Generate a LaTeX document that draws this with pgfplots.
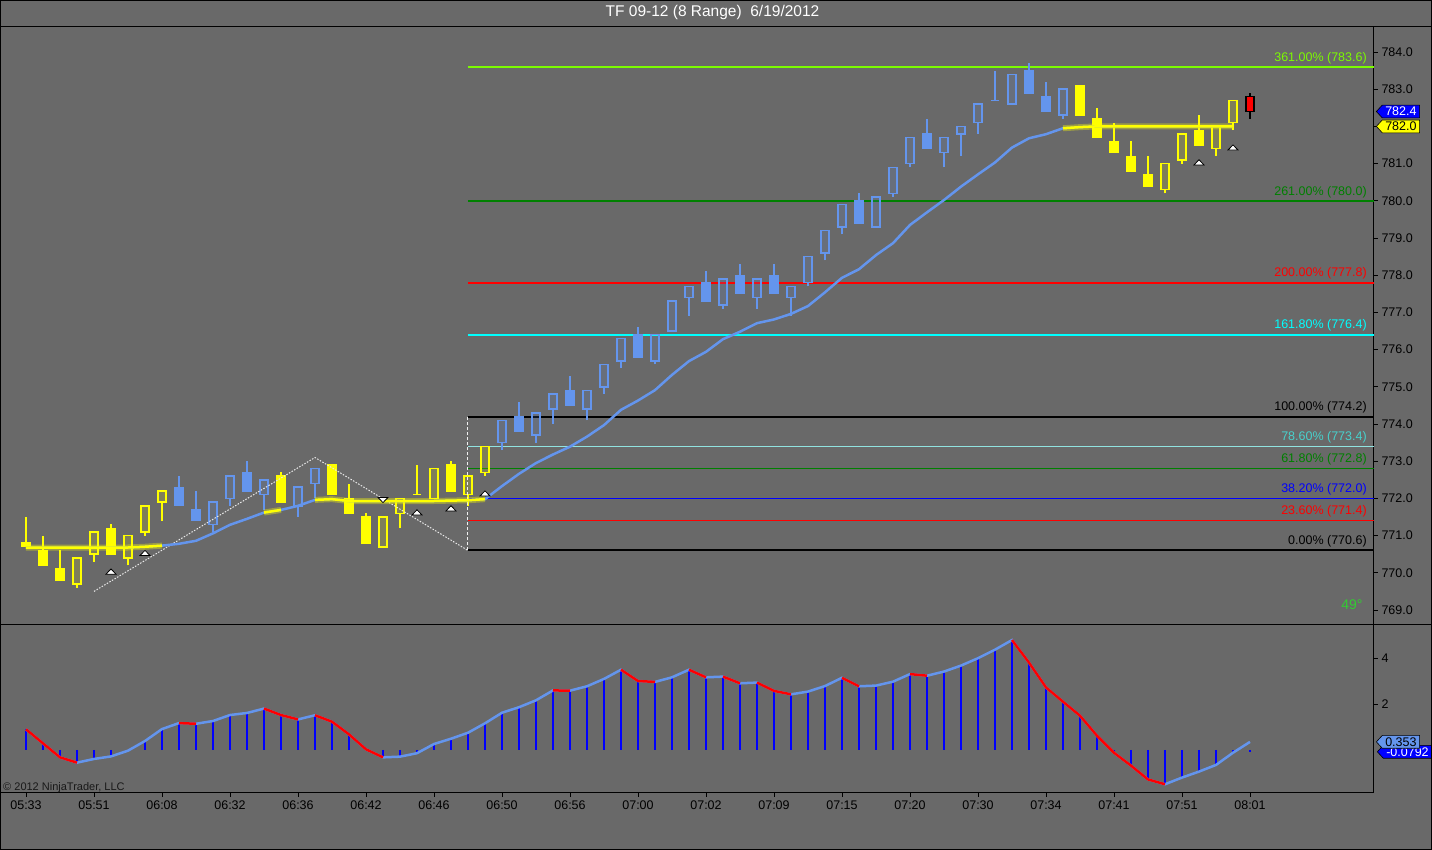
\documentclass[border=0pt]{standalone}
\usepackage{fontspec}
\setmainfont{Liberation Sans}
\usepackage{pgfplots}
\pgfplotsset{compat=1.18}
\usepackage{pgfplotstable}
\usetikzlibrary{shapes.symbols}

\definecolor{bg}{RGB}{105,105,105}
\definecolor{cfblue}{RGB}{100,149,237}
\definecolor{dgreen}{RGB}{0,128,0}
\definecolor{lgreen}{RGB}{124,252,0}
\definecolor{mturq}{RGB}{72,209,204}
\definecolor{limeg}{RGB}{50,205,50}
\definecolor{yel}{RGB}{255,255,0}
\definecolor{cyn}{RGB}{0,255,255}
\definecolor{rd}{RGB}{255,0,0}
\definecolor{bl}{RGB}{0,0,255}

\pgfplotstableread{
i o h l c t
0 770.8 771.5 770.7 770.7 1
1 770.6 771.0 770.2 770.2 1
2 770.1 770.6 769.8 769.8 1
3 769.7 770.4 769.6 770.4 1
4 770.5 771.1 770.3 771.1 1
5 771.2 771.3 770.5 770.5 1
6 770.4 771.0 770.2 771.0 1
7 771.1 771.8 771.0 771.8 1
8 771.9 772.2 771.4 772.2 1
9 772.3 772.6 771.8 771.8 2
10 771.7 772.2 771.4 771.4 2
11 771.3 771.9 771.1 771.9 2
12 772.0 772.6 771.8 772.6 2
13 772.7 773.0 772.2 772.2 2
14 772.1 772.5 771.7 772.5 2
15 772.6 772.7 771.9 771.9 1
16 771.8 772.3 771.5 772.3 2
17 772.4 772.8 772.0 772.8 2
18 772.9 772.9 772.1 772.1 1
19 772.0 772.4 771.6 771.6 1
20 771.5 771.6 770.8 770.8 1
21 770.7 771.5 770.7 771.5 1
22 771.6 772.0 771.2 772.0 1
23 772.1 772.9 772.1 772.1 1
24 772.0 772.8 772.0 772.8 1
25 772.9 773.0 772.2 772.2 1
26 772.1 772.6 771.8 772.6 1
27 772.7 773.4 772.6 773.4 1
28 773.5 774.1 773.3 774.1 2
29 774.2 774.6 773.8 773.8 2
30 773.7 774.3 773.5 774.3 2
31 774.4 774.8 774.0 774.8 2
32 774.9 775.3 774.5 774.5 2
33 774.4 774.9 774.1 774.9 2
34 775.0 775.6 774.8 775.6 2
35 775.7 776.3 775.5 776.3 2
36 776.4 776.6 775.8 775.8 2
37 775.7 776.4 775.6 776.4 2
38 776.5 777.3 776.5 777.3 2
39 777.4 777.7 776.9 777.7 2
40 777.8 778.1 777.3 777.3 2
41 777.2 777.9 777.1 777.9 2
42 778.0 778.3 777.5 777.5 2
43 777.4 777.9 777.1 777.9 2
44 778.0 778.3 777.5 777.5 2
45 777.4 777.7 776.9 777.7 2
46 777.8 778.5 777.7 778.5 2
47 778.6 779.2 778.4 779.2 2
48 779.3 779.9 779.1 779.9 2
49 780.0 780.2 779.4 779.4 2
50 779.3 780.1 779.3 780.1 2
51 780.2 780.9 780.1 780.9 2
52 781.0 781.7 780.9 781.7 2
53 781.8 782.2 781.4 781.4 2
54 781.3 781.7 780.9 781.7 2
55 781.8 782.0 781.2 782.0 2
56 782.1 782.6 781.8 782.6 2
57 782.7 783.5 782.7 782.7 2
58 782.6 783.4 782.6 783.4 2
59 783.5 783.7 782.9 782.9 2
60 782.8 783.2 782.4 782.4 2
61 782.3 783.0 782.2 783.0 2
62 783.1 783.1 782.3 782.3 1
63 782.2 782.5 781.7 781.7 1
64 781.6 782.1 781.3 781.3 1
65 781.2 781.6 780.8 780.8 1
66 780.7 781.2 780.4 780.4 1
67 780.3 781.0 780.2 781.0 1
68 781.1 781.8 781.0 781.8 1
69 781.9 782.3 781.5 781.5 1
70 781.4 782.0 781.2 782.0 1
71 782.1 782.7 781.9 782.7 1
72 782.8 782.9 782.2 782.4 3
}\candles

\pgfplotstableread{
i ma
0 770.68
1 770.68
2 770.68
3 770.68
4 770.68
5 770.68
6 770.68
7 770.70
8 770.73
9 770.78
10 770.86
11 771.06
12 771.29
13 771.45
14 771.62
15 771.69
16 771.80
17 771.96
18 771.98
19 771.93
20 771.93
21 771.93
22 771.93
23 771.93
24 771.93
25 771.94
26 771.95
27 771.98
28 772.33
29 772.66
30 772.95
31 773.18
32 773.39
33 773.66
34 773.97
35 774.38
36 774.63
37 774.91
38 775.32
39 775.69
40 775.94
41 776.28
42 776.48
43 776.71
44 776.81
45 776.96
46 777.17
47 777.54
48 777.93
49 778.16
50 778.54
51 778.86
52 779.35
53 779.69
54 780.02
55 780.38
56 780.71
57 781.03
58 781.43
59 781.68
60 781.79
61 781.95
62 781.98
63 782.00
64 782.00
65 782.00
66 782.00
67 782.00
68 782.00
69 782.00
70 782.00
71 782.00
}\matbl

\pgfplotstableread{
i v h
0 0.90 0.90
1 0.29 0.29
2 -0.32 -0.32
3 -0.55 -0.55
4 -0.39 -0.39
5 -0.28 -0.28
6 -0.03 -0.03
7 0.39 0.39
8 0.91 0.91
9 1.17 1.17
10 1.14 1.14
11 1.26 1.26
12 1.52 1.52
13 1.61 1.61
14 1.80 1.80
15 1.52 1.52
16 1.33 1.33
17 1.51 1.51
18 1.23 1.23
19 0.68 0.68
20 0.03 0.03
21 -0.32 -0.32
22 -0.29 -0.29
23 -0.14 -0.14
24 0.26 0.26
25 0.49 0.49
26 0.75 0.75
27 1.16 1.16
28 1.62 1.62
29 1.86 1.86
30 2.16 2.16
31 2.59 2.59
32 2.58 2.58
33 2.77 2.77
34 3.09 3.09
35 3.49 3.49
36 3.00 3.00
37 2.96 2.96
38 3.16 3.16
39 3.49 3.49
40 3.16 3.16
41 3.19 3.19
42 2.90 2.90
43 2.93 2.93
44 2.57 2.57
45 2.42 2.42
46 2.54 2.54
47 2.78 2.78
48 3.14 3.14
49 2.77 2.77
50 2.80 2.80
51 2.97 2.97
52 3.30 3.30
53 3.23 3.23
54 3.41 3.41
55 3.67 3.67
56 3.99 3.99
57 4.36 4.36
58 4.78 4.78
59 3.80 3.80
60 2.72 2.72
61 2.10 2.10
62 1.49 1.49
63 0.62 0.62
64 -0.12 -0.12
65 -0.68 -0.68
66 -1.28 -1.28
67 -1.49 -1.49
68 -1.20 -1.20
69 -0.94 -0.94
70 -0.65 -0.65
71 -0.12 -0.12
72 0.353 -0.0792
}\osc

\pgfplotsset{
  wick1/.style={draw=yel, line width=1.5pt},
  wick2/.style={draw=cfblue, line width=1.5pt},
  wick3/.style={draw=black, line width=1.5pt},
  body1F/.style={draw=yel, fill=yel, line width=1.2pt},
  body1H/.style={draw=yel, fill=yel, fill opacity=0.15, line width=1.5pt},
  body2F/.style={draw=cfblue, fill=cfblue, line width=1.2pt},
  body2H/.style={draw=cfblue, fill=cfblue, fill opacity=0.15, line width=1.5pt},
  body3F/.style={draw=black, fill=rd, line width=1.2pt},
  body3H/.style={draw=black, fill=rd, line width=1.2pt},
}
\tikzset{
  fiblab/.style={anchor=south east, inner sep=0pt, yshift=3pt, font=\fontsize{12.5}{14}\selectfont},
  pricetag/.style={signal, signal to=west, signal pointer angle=95, draw=black, line width=0.6pt, inner xsep=3pt, inner ysep=2pt, anchor=west, font=\fontsize{12.5}{14}\selectfont},
}

\begin{document}
\begin{tikzpicture}[x=1pt,y=1pt]
\path[use as bounding box] (0,0) rectangle (1432,850);
\fill[bg] (0,0) rectangle (1432,850);

% ---------------- price panel ----------------
\begin{axis}[
  at={(0pt,225pt)}, anchor=south west, scale only axis,
  width=1374pt, height=598pt,
  xmin=-1.529, xmax=79.294, ymin=768.597, ymax=784.672,
  clip=false,
  axis line style={black, line width=1pt},
  xtick=\empty,
  ytick={769,770,771,772,773,774,775,776,777,778,779,780,781,783,784},
  extra y ticks={782}, extra y tick labels={},
  ytick pos=right, yticklabel pos=right,
  tick align=outside, major tick length=4pt,
  tick style={black, line width=0.8pt},
  yticklabel style={font=\fontsize{12.5}{14}\selectfont, text=black, /pgf/number format/.cd, fixed, fixed zerofill, precision=1, assume math mode=true},
]
% Fibonacci levels
\addplot[lgreen, line width=2pt] coordinates {(26,783.6) (79.294,783.6)};
\addplot[dgreen, line width=2pt] coordinates {(26,780.0) (79.294,780.0)};
\addplot[rd, line width=2pt] coordinates {(26,777.8) (79.294,777.8)};
\addplot[cyn, line width=2pt] coordinates {(26,776.4) (79.294,776.4)};
\addplot[black, line width=2pt] coordinates {(26,774.2) (79.294,774.2)};
\addplot[mturq!60!white, line width=1pt] coordinates {(26,773.4) (79.294,773.4)};
\addplot[dgreen, line width=1pt] coordinates {(26,772.8) (79.294,772.8)};
\addplot[bl, line width=1pt] coordinates {(26,772.0) (79.294,772.0)};
\addplot[rd, line width=1pt] coordinates {(26,771.4) (79.294,771.4)};
\addplot[black, line width=2pt] coordinates {(26,770.6) (79.294,770.6)};
\node[fiblab, text=lgreen] at (axis cs:78.88,783.6) {361.00\% (783.6)};
\node[fiblab, text=dgreen] at (axis cs:78.88,780.0) {261.00\% (780.0)};
\node[fiblab, text=rd] at (axis cs:78.88,777.8) {200.00\% (777.8)};
\node[fiblab, text=cyn] at (axis cs:78.88,776.4) {161.80\% (776.4)};
\node[fiblab, text=black] at (axis cs:78.88,774.2) {100.00\% (774.2)};
\node[fiblab, text=mturq] at (axis cs:78.88,773.4) {78.60\% (773.4)};
\node[fiblab, text=dgreen] at (axis cs:78.88,772.8) {61.80\% (772.8)};
\node[fiblab, text=bl] at (axis cs:78.88,772.0) {38.20\% (772.0)};
\node[fiblab, text=rd] at (axis cs:78.88,771.4) {23.60\% (771.4)};
\node[fiblab, text=black] at (axis cs:78.88,770.6) {0.00\% (770.6)};

% candles
\pgfplotsforeachungrouped \k in {0,...,72}{%
  \pgfplotstablegetelem{\k}{o}\of\candles\let\cO\pgfplotsretval
  \pgfplotstablegetelem{\k}{h}\of\candles\let\cH\pgfplotsretval
  \pgfplotstablegetelem{\k}{l}\of\candles\let\cL\pgfplotsretval
  \pgfplotstablegetelem{\k}{c}\of\candles\let\cC\pgfplotsretval
  \pgfplotstablegetelem{\k}{t}\of\candles\let\cT\pgfplotsretval
  \pgfmathsetmacro\cMin{min(\cO,\cC)}%
  \pgfmathsetmacro\cMax{max(\cO,\cC)}%
  \pgfmathsetmacro\xA{\k-0.23}%
  \pgfmathsetmacro\xB{\k+0.23}%
  \pgfmathtruncatemacro\cF{\cC<\cO ? 1 : 0}%
  \edef\next{%
    \noexpand\addplot[wick\cT] coordinates {(\k,\cL) (\k,\cMin)};
    \noexpand\addplot[wick\cT] coordinates {(\k,\cMax) (\k,\cH)};
    \noexpand\addplot[body\cT\ifnum\cF=1 F\else H\fi] coordinates {(\xA,\cO) (\xB,\cO) (\xB,\cC) (\xA,\cC)} -- cycle;
  }\next
}

% zigzag and retracement base
\addplot[white!85!bg, line width=1pt, dash pattern=on 1.5pt off 1.5pt] coordinates {(4,769.5) (17,773.1) (26,770.6)};
\addplot[white!90!bg, line width=1pt, dash pattern=on 3pt off 2pt] coordinates {(26,770.6) (26,774.2)};

% moving average
\addplot[cfblue, line width=2.5pt] table[x=i, y=ma]{\matbl};
\pgfplotsinvokeforeach{0:8, 14:15, 17:27, 61:71}{
  \addplot[yel, opacity=0.35, line width=6pt, restrict x to domain=#1] table[x=i, y=ma]{\matbl};
  \addplot[yel, line width=2.5pt, restrict x to domain=#1] table[x=i, y=ma]{\matbl};
}

% signal triangles
\addplot[only marks, mark=triangle*, mark size=5.8pt, mark options={fill=white, draw=black, line width=0.8pt, yscale=0.6}] coordinates {
(5,770.01) (7,770.51) (23,771.60) (25,771.71) (27,772.11) (69,781.01) (71,781.41)};
\addplot[only marks, mark=triangle*, mark size=5.8pt, mark options={fill=white, draw=black, line width=0.8pt, yscale=0.6, rotate=180}] coordinates {(21,771.98)};

\node[text=limeg, font=\fontsize{14}{16}\selectfont] at (axis cs:78.0,769.13) {49°};

% price markers on axis
\node[pricetag, fill=yel, text=black] at ([xshift=2pt]axis cs:79.294,782.0) {782.0};
\node[pricetag, fill=bl, text=white] at ([xshift=2pt]axis cs:79.294,782.4) {782.4};
\end{axis}

% ---------------- oscillator panel ----------------
\begin{axis}[
  at={(0pt,57pt)}, anchor=south west, scale only axis,
  width=1374pt, height=168pt,
  xmin=-1.529, xmax=79.294, ymin=-1.870, ymax=5.435,
  clip=false,
  axis line style={black, line width=1pt},
  xtick={0,4,...,72},
  xticklabels={05:33,05:51,06:08,06:32,06:36,06:42,06:46,06:50,06:56,07:00,07:02,07:09,07:15,07:20,07:30,07:34,07:41,07:51,08:01},
  xtick pos=bottom, ytick pos=right, yticklabel pos=right,
  ytick={2,4},
  tick align=outside, major tick length=4pt,
  tick style={black, line width=0.8pt},
  xticklabel style={font=\fontsize{12.5}{14}\selectfont, text=black},
  yticklabel style={font=\fontsize{12.5}{14}\selectfont, text=black, /pgf/number format/.cd, fixed, precision=0, assume math mode=true},
]
\addplot[ycomb, bl, line width=2.5pt] table[x=i, y=h]{\osc};
\addplot[cfblue, line width=2.5pt] table[x=i, y=v]{\osc};
\pgfplotsinvokeforeach{0:3, 9:10, 14:16, 17:21, 31:32, 35:37, 39:40, 41:42, 43:45, 48:49, 52:53, 58:67}{
  \addplot[rd, line width=2.5pt, restrict x to domain=#1] table[x=i, y=v]{\osc};
}
\node[anchor=west, inner sep=0pt, text=black!90, font=\fontsize{11}{13}\selectfont] at (axis cs:-1.35,-1.65) {© 2012 NinjaTrader, LLC};
\node[pricetag, fill=bl, text=white] at ([xshift=3pt]axis cs:79.294,-0.0792) {-0.0792};
\node[pricetag, fill=cfblue, text=black] at ([xshift=2pt]axis cs:79.294,0.353) {0.353};
\end{axis}

% frame lines and title
\draw[black, line width=1pt] (0,823) -- (1432,823);
\draw[black, line width=1pt] (1374,225) -- (1432,225);
\draw[black, line width=1pt] (0.5,0.5) rectangle (1431.5,849.5);
\node[text=white, font=\fontsize{15.5}{18}\selectfont] at (712.5,837) {TF 09-12 (8 Range)\ \ 6/19/2012};
\end{tikzpicture}
\end{document}
